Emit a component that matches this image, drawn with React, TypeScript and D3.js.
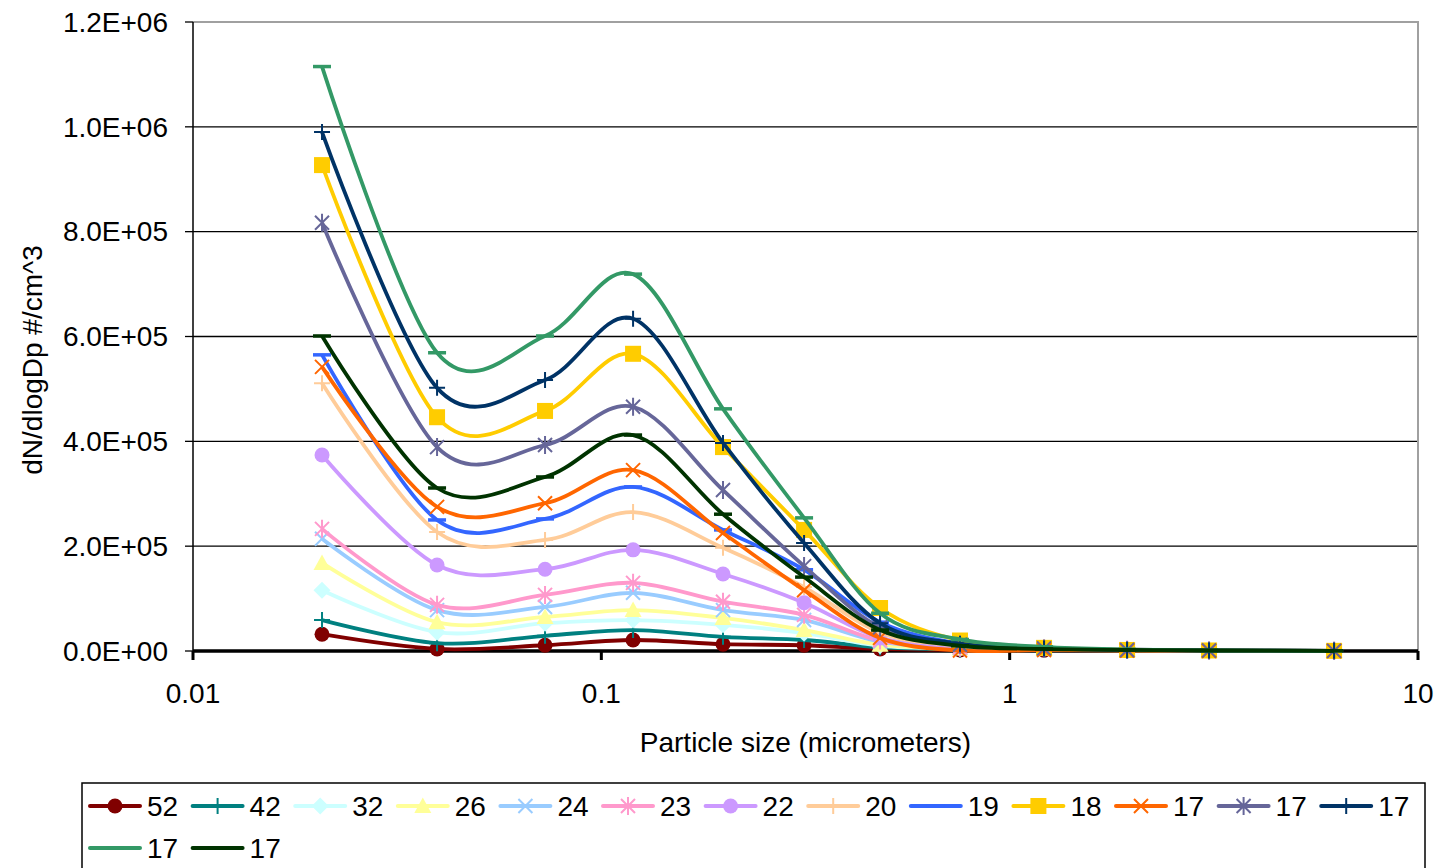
import React, { useRef, useEffect } from "react";
import * as d3 from "d3";

// particle size bins (micrometers)
const sizes = [0.0207, 0.0396, 0.0728, 0.1196, 0.1986, 0.3137, 0.4815, 0.7557, 1.214, 1.939, 3.078, 6.23];

const seriesNames = ["52", "42", "32", "26", "24", "23", "22", "20", "19", "18", "17", "17", "17", "17", "17"];
const seriesColors = ["#800000", "#008080", "#CCFFFF", "#FFFF99", "#99CCFF", "#FF99CC", "#CC99FF", "#FFCC99",
                      "#3366FF", "#FFCC00", "#FF6600", "#666699", "#003366", "#339966", "#003300"];
const seriesMarkers = ["circle", "plus", "diamond", "triangle", "x", "star", "circle", "plus",
                       "dash", "square", "x", "star", "plus", "dash", "dash"];

const s52 = [32000, 4000, 11000, 21000, 13000, 11000, 4000, 2000, 1500, 1000, 500, 200];
const s42 = [59000, 15000, 29000, 40000, 27000, 21000, 7000, 3000, 2000, 1000, 500, 200];
const s32 = [116000, 36000, 53000, 59000, 50000, 34000, 10000, 5000, 4000, 3000, 1000, 300];
const s26 = [168000, 55000, 65000, 78000, 63000, 40000, 12000, 5000, 4000, 2000, 1000, 300];
const s24 = [214000, 78000, 84000, 111000, 78000, 59000, 18000, 6000, 4000, 2000, 1000, 300];
const s23 = [233000, 88000, 107000, 130000, 94000, 69000, 20000, 7000, 5000, 3000, 1000, 300];
const s22 = [374000, 164000, 156000, 193000, 147000, 92000, 25000, 8000, 5000, 2000, 1000, 300];
const s20 = [511000, 227000, 212000, 265000, 197000, 122000, 35000, 10000, 5000, 2000, 1000, 300];
const s19 = [565000, 250000, 252000, 313000, 231000, 155000, 55000, 14000, 6000, 2000, 1000, 300];
const s18 = [927000, 446000, 458000, 567000, 389000, 231000, 82000, 20000, 6000, 2000, 1000, 300];
const s17a = [542000, 275000, 282000, 345000, 225000, 116000, 25000, 1000, 2000, 1000, 500, 200];
const s17b = [817000, 389000, 393000, 466000, 307000, 162000, 45000, 12000, 5000, 2000, 1000, 300];
const s17c = [990000, 502000, 517000, 634000, 397000, 206000, 53000, 14000, 5000, 2000, 1000, 300];
const s17d = [1115000, 569000, 601000, 719000, 462000, 254000, 72000, 22000, 8000, 3000, 1000, 300];
const s17e = [601000, 311000, 332000, 412000, 261000, 141000, 40000, 10000, 4000, 2000, 1000, 300];

const seriesValues = [s52, s42, s32, s26, s24, s23, s22, s20, s19, s18, s17a, s17b, s17c, s17d, s17e];

const yTicks = [0, 200000, 400000, 600000, 800000, 1000000, 1200000];
const xTicks = [0.01, 0.1, 1, 10];

const FONT = "'Liberation Sans', Arial, sans-serif";
const FS = 28;

function App() {
    const svgRef = useRef();

    useEffect(() => {
        const width = 1438;
        const height = 868;
        const left = 193, right = 1418, top = 22, bottom = 651;

        const x = d3.scaleLog().domain([0.01, 10]).range([left, right]);
        const y = d3.scaleLinear().domain([0, 1200000]).range([bottom, top]);

        const svg = d3.select(svgRef.current)
            .attr("width", width)
            .attr("height", height)
            .style("font-family", FONT);
        svg.selectAll("*").remove();

        svg.append("rect").attr("width", width).attr("height", height).attr("fill", "#fff");

        // 1.2E+06 style labels
        const fmt = v => {
            if (v === 0) return "0.0E+00";
            const [m, e] = v.toExponential(1).split("e");
            const ei = +e;
            return `${m}E${ei >= 0 ? "+" : "-"}${String(Math.abs(ei)).padStart(2, "0")}`;
        };

        // gridlines
        svg.append("g").selectAll("line")
            .data(yTicks.filter(d => d > 0 && d < 1200000))
            .join("line")
            .attr("x1", left).attr("x2", right)
            .attr("y1", d => y(d)).attr("y2", d => y(d))
            .attr("stroke", "#000").attr("stroke-width", 1.3);

        // plot border top / right (grey)
        svg.append("path")
            .attr("d", `M${left},${top}H${right}V${bottom}`)
            .attr("fill", "none").attr("stroke", "#a0a0a0").attr("stroke-width", 2);

        // y axis
        svg.append("line").attr("x1", left).attr("x2", left).attr("y1", top).attr("y2", bottom + 3)
            .attr("stroke", "#000").attr("stroke-width", 1.5);
        svg.append("g").selectAll("line").data(yTicks).join("line")
            .attr("x1", left - 8).attr("x2", left)
            .attr("y1", d => y(d)).attr("y2", d => y(d))
            .attr("stroke", "#000").attr("stroke-width", 1.3);
        svg.append("g").selectAll("text").data(yTicks).join("text")
            .attr("x", left - 25).attr("y", d => y(d))
            .attr("dy", "0.35em").attr("text-anchor", "end")
            .attr("font-size", FS).attr("fill", "#000")
            .text(fmt);

        // x axis
        svg.append("g").selectAll("line").data(xTicks).join("line")
            .attr("x1", d => x(d)).attr("x2", d => x(d))
            .attr("y1", bottom).attr("y2", bottom + 9)
            .attr("stroke", "#000").attr("stroke-width", 3);
        svg.append("g").selectAll("text").data(xTicks).join("text")
            .attr("x", d => x(d)).attr("y", 693)
            .attr("dy", "0.35em").attr("text-anchor", "middle")
            .attr("font-size", FS).attr("fill", "#000")
            .text(d => String(d));

        // axis titles
        svg.append("text")
            .attr("x", (left + right) / 2).attr("y", 742).attr("dy", "0.35em")
            .attr("text-anchor", "middle").attr("font-size", FS)
            .text("Particle size (micrometers)");
        svg.append("text")
            .attr("transform", `translate(32,360) rotate(-90)`)
            .attr("dy", "0.35em").attr("text-anchor", "middle").attr("font-size", FS)
            .text("dN/dlogDp #/cm^3");

        // markers
        function marker(g, type, cx, cy, color) {
            const s = 7;
            if (type === "circle") {
                g.append("circle").attr("cx", cx).attr("cy", cy).attr("r", 7.5).attr("fill", color);
            } else if (type === "square") {
                g.append("rect").attr("x", cx - 8).attr("y", cy - 8).attr("width", 16).attr("height", 16).attr("fill", color);
            } else if (type === "diamond") {
                g.append("path").attr("d", `M${cx},${cy - 8.5}L${cx + 8.5},${cy}L${cx},${cy + 8.5}L${cx - 8.5},${cy}Z`).attr("fill", color);
            } else if (type === "triangle") {
                g.append("path").attr("d", `M${cx},${cy - 8.5}L${cx + 8.5},${cy + 7}L${cx - 8.5},${cy + 7}Z`).attr("fill", color);
            } else {
                let d = "";
                if (type === "plus") d = `M${cx - s - 1},${cy}H${cx + s + 1}M${cx},${cy - s - 1}V${cy + s + 1}`;
                if (type === "x") d = `M${cx - s},${cy - s}L${cx + s},${cy + s}M${cx - s},${cy + s}L${cx + s},${cy - s}`;
                if (type === "star") d = `M${cx - s},${cy - s}L${cx + s},${cy + s}M${cx - s},${cy + s}L${cx + s},${cy - s}M${cx},${cy - s - 2}V${cy + s + 2}`;
                if (type === "dash") d = `M${cx - 9},${cy}H${cx + 9}`;
                g.append("path").attr("d", d).attr("fill", "none").attr("stroke", color)
                    .attr("stroke-width", type === "dash" ? 3.5 : 2);
            }
        }

        // bottom axis line under the series
        svg.append("line").attr("x1", left).attr("x2", right).attr("y1", bottom).attr("y2", bottom)
            .attr("stroke", "#000").attr("stroke-width", 3.5);

        // smoothed series lines (Excel style smoothing)
        const line = d3.line()
            .x(d => x(d[0]))
            .y(d => y(d[1]))
            .curve(d3.curveCardinal.tension(0));

        seriesValues.forEach((vals, i) => {
            const pts = vals.map((v, j) => [sizes[j], v]);
            const g = svg.append("g");
            g.append("path")
                .attr("d", line(pts))
                .attr("fill", "none")
                .attr("stroke", seriesColors[i])
                .attr("stroke-width", 3.8)
                .attr("stroke-linejoin", "round");
            pts.forEach(p => marker(g, seriesMarkers[i], x(p[0]), y(p[1]), seriesColors[i]));
        });

        // legend
        const legend = svg.append("g");
        legend.append("rect")
            .attr("x", 82).attr("y", 783).attr("width", 1343).attr("height", 110)
            .attr("fill", "#fff").attr("stroke", "#000").attr("stroke-width", 1.5);
        const step = 102.6;
        seriesNames.forEach((name, i) => {
            const row = i < 13 ? 0 : 1;
            const col = i < 13 ? i : i - 13;
            const lx = 90 + col * step;
            const ly = row === 0 ? 806 : 848;
            const g = legend.append("g");
            g.append("line").attr("x1", lx).attr("x2", lx + 50).attr("y1", ly).attr("y2", ly)
                .attr("stroke", seriesColors[i]).attr("stroke-width", 4).attr("stroke-linecap", "round");
            marker(g, seriesMarkers[i], lx + 25, ly, seriesColors[i]);
            g.append("text").attr("x", lx + 57).attr("y", ly).attr("dy", "0.35em")
                .attr("font-size", FS).attr("fill", "#000").text(name);
        });
    }, []);

    return (
        <svg ref={svgRef} style={{ position: "absolute", left: 0, top: 0, display: "block" }}></svg>
    );
}

export default App;
